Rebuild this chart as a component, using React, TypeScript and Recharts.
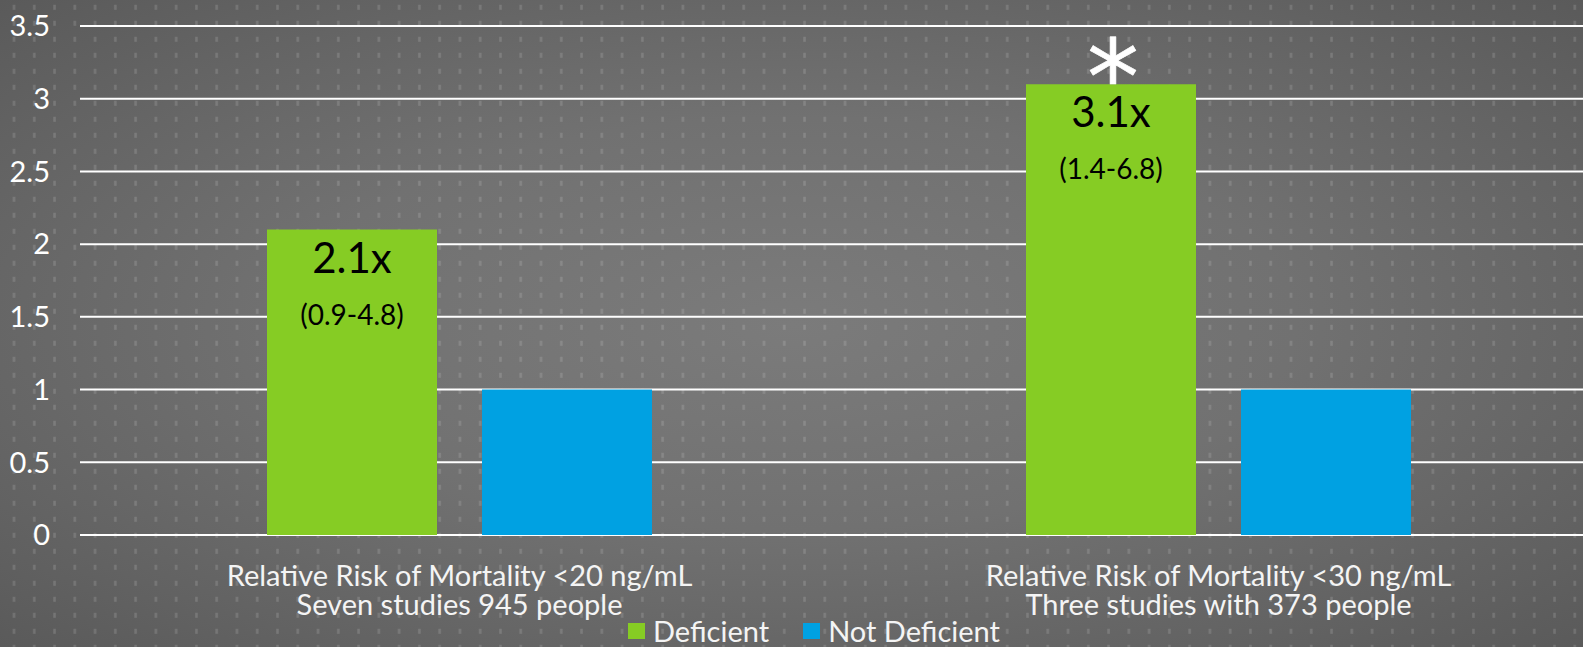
import React from 'react';
import { BarChart, Bar, XAxis, YAxis, CartesianGrid, Legend, LabelList } from 'recharts';

// Relative risk of mortality, vitamin D deficient vs not deficient
const thresholds = ['Relative Risk of Mortality <20 ng/mL', 'Relative Risk of Mortality <30 ng/mL'];
const studyNotes = ['Seven studies 945 people', 'Three studies with 373 people'];
const deficient = [2.1, 3.1];
const notDeficient = [1, 1];
const intervals = ['(0.9-4.8)', '(1.4-6.8)'];
const significant = [false, true];
const yTicks = [0, 0.5, 1, 1.5, 2, 2.5, 3, 3.5];

const GREEN = '#86cc24';
const BLUE = '#00a1e2';
const FONT = 'Lato, "Open Sans", sans-serif';

const data = thresholds.map((name, i) => ({
  name,
  note: studyNotes[i],
  deficient: deficient[i],
  notDeficient: notDeficient[i],
}));

const CategoryTick = (props: any) => {
  const { x, y, index } = props;
  return (
    <text x={x} textAnchor="middle" fill="#f4f4f4" fontSize={29} fontFamily={FONT}>
      <tspan x={x} y={y + 51}>{thresholds[index]}</tspan>
      <tspan x={x} y={y + 80}>{studyNotes[index]}</tspan>
    </text>
  );
};

const RiskLabel = (props: any) => {
  const { x, y, width, value, index } = props;
  const cx = x + width / 2;
  return (
    <g>
      {significant[index] && (
        <text
          x={cx + 2}
          y={y + 30}
          textAnchor="middle"
          fill="#ffffff"
          stroke="#ffffff"
          strokeWidth={0.6}
          strokeLinejoin="round"
          fontSize={104}
          fontFamily='"DejaVu Sans", sans-serif'
        >
          *
        </text>
      )}
      <text x={cx} y={y + 43} textAnchor="middle" fill="#000" fontSize={42} fontFamily={FONT}>
        {`${value}x`}
      </text>
      <text x={cx} y={y + 95} textAnchor="middle" fill="#000" fontSize={28} fontFamily={FONT}>
        {intervals[index]}
      </text>
    </g>
  );
};

const LegendContent = (props: any) => {
  const { payload = [] } = props;
  return (
    <div style={{ display: 'flex', alignItems: 'center', height: 32, fontFamily: FONT, fontSize: 29, lineHeight: '32px', color: '#f4f4f4' }}>
      {payload.map((entry: any, i: number) => (
        <div key={entry.value} style={{ display: 'flex', alignItems: 'center', marginLeft: i ? 34 : 0 }}>
          <span style={{ display: 'inline-block', width: 17, height: 16, background: entry.color, marginRight: 8 }} />
          <span>{entry.value}</span>
        </div>
      ))}
    </div>
  );
};

const DotPattern = () => (
  <svg width={1583} height={647} style={{ position: 'absolute', left: 0, top: 0 }}>
    <defs>
      <pattern id="dots" patternUnits="userSpaceOnUse" width={20.27} height={16}>
        <rect x={12.75} y={4.8} width={2.5} height={5} fill="rgba(255,255,255,0.14)" />
      </pattern>
    </defs>
    <rect width={1583} height={647} fill="url(#dots)" />
  </svg>
);

export default function App() {
  return (
    <div
      style={{
        position: 'absolute',
        left: 0,
        top: 0,
        width: 1583,
        height: 647,
        overflow: 'hidden',
        background: 'radial-gradient(ellipse at 50% 50%, #7b7b7b 0%, #717171 45%, #5a5a5a 100%)',
      }}
    >
      <DotPattern />
      <div style={{ position: 'absolute', left: 0, top: 0 }}>
        <BarChart
          width={1600}
          height={647}
          data={data}
          margin={{ top: 26, right: 2, left: 0, bottom: 0 }}
          barSize={170}
          barGap={45}
        >
          <CartesianGrid vertical={false} stroke="#ffffff" strokeWidth={2} />
          <XAxis
            dataKey="name"
            axisLine={false}
            tickLine={false}
            tickSize={0}
            tickMargin={0}
            height={80}
            interval={0}
            tick={<CategoryTick />}
          />
          <YAxis
            domain={[0, 3.5]}
            ticks={yTicks}
            axisLine={false}
            tickLine={false}
            tickSize={0}
            tickMargin={30}
            width={80}
            tick={{ fill: '#ffffff', fontSize: 29, fontFamily: FONT }}
          />
          <Legend
            verticalAlign="bottom"
            content={<LegendContent />}
            wrapperStyle={{ left: 628, top: 615, width: 420, height: 32 }}
          />
          <Bar dataKey="deficient" name="Deficient" fill={GREEN} isAnimationActive={false}>
            <LabelList dataKey="deficient" content={<RiskLabel />} />
          </Bar>
          <Bar dataKey="notDeficient" name="Not Deficient" fill={BLUE} isAnimationActive={false} />
        </BarChart>
      </div>
    </div>
  );
}
